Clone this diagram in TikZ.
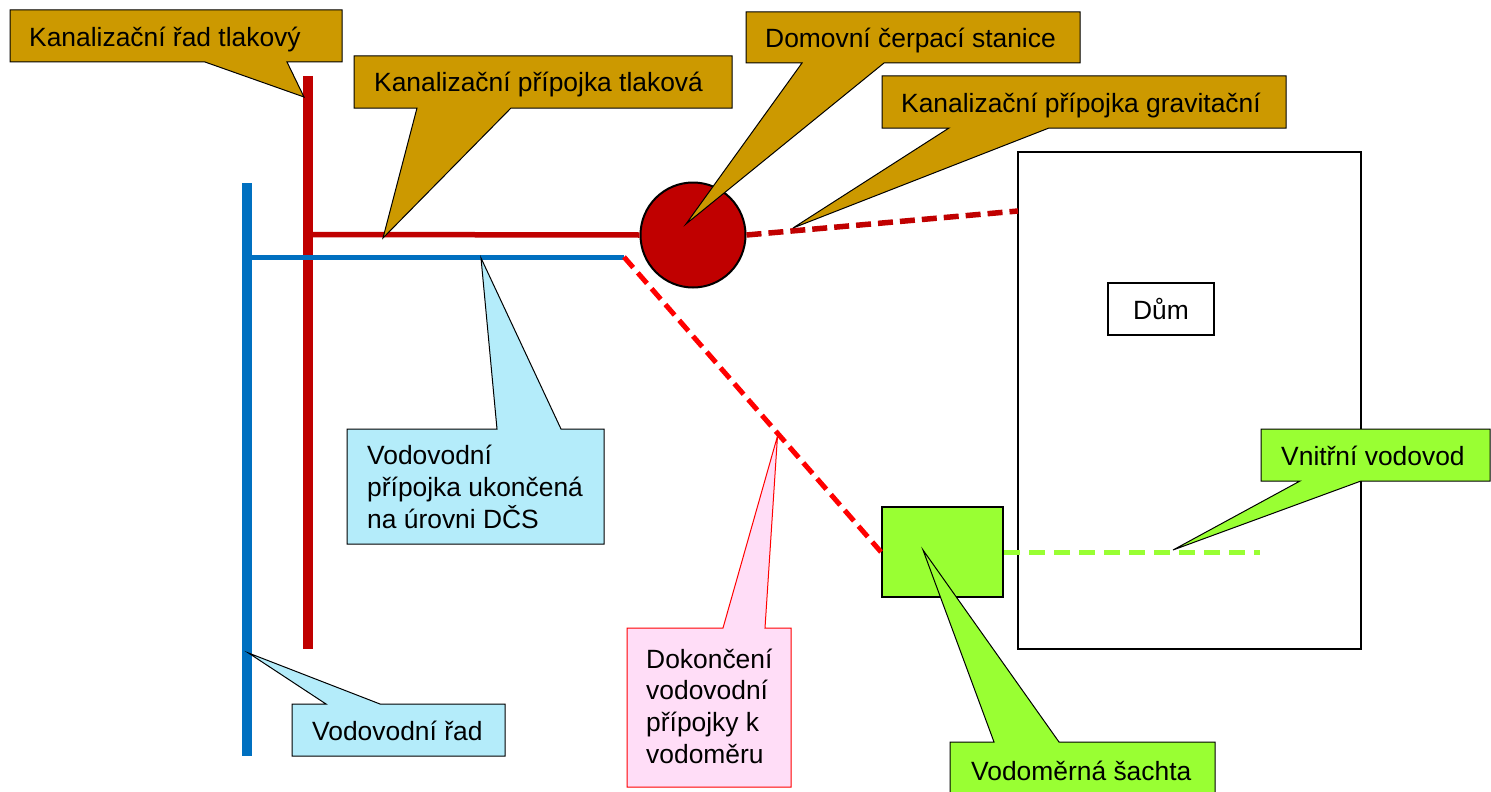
\documentclass[tikz,border=0pt]{standalone}
\usepackage{fontspec}
\setmainfont{Liberation Sans}
\definecolor{gold}{RGB}{204,153,0}
\definecolor{lblue}{RGB}{180,236,250}
\definecolor{lpink}{RGB}{255,221,247}
\definecolor{lgreen}{RGB}{153,255,51}
\definecolor{dred}{RGB}{192,0,0}
\definecolor{bred}{RGB}{255,0,0}
\definecolor{pblue}{RGB}{0,112,192}
\tikzset{
  lbl/.style={inner sep=0pt, anchor=base west, align=left, font=\fontsize{26.4pt}{31.6pt}\selectfont},
  callgold/.style={fill=gold, draw=black, line width=1pt, line join=miter},
  callblue/.style={fill=lblue, draw=black, line width=1pt},
  callpink/.style={fill=lpink, draw=bred, line width=1pt},
  callgreen/.style={fill=lgreen, draw=black, line width=1pt},
  redpipe/.style={draw=dred, line width=10pt},
  bluepipe/.style={draw=pblue, line width=10.5pt},
  redthin/.style={draw=dred, line width=5.5pt},
  bluethin/.style={draw=pblue, line width=5pt},
  graviline/.style={draw=dred, line width=5.5pt, dash pattern=on 15pt off 7pt},
  finishline/.style={draw=bred, line width=5pt, dash pattern=on 14pt off 7pt},
  innerline/.style={draw=lgreen, line width=5pt, dash pattern=on 16pt off 9pt},
}
\begin{document}
\begin{tikzpicture}[x=1pt,y=-1pt]
\useasboundingbox (0,0) rectangle (1491,792);
\fill[white] (0,0) rectangle (1491,792);
\begin{scope}
\clip (0,0) rectangle (1491,792);
% pipes
\coordinate (rtop) at (308,76);
\coordinate (rbot) at (308,649);
\coordinate (btop) at (247,183);
\coordinate (bbot) at (247,756);
\coordinate (rh) at (313,234.5);
\coordinate (bh) at (252,257);
\coordinate (bend) at (624,257);
\coordinate (hw) at (1018,211);
\coordinate (gend) at (1260,552);
\node (house) [draw=black, line width=2pt, minimum width=343pt, minimum height=497pt, inner sep=0pt] at (1189.5,400.5) {};
\node (dum) [draw=black, fill=white, line width=1.3pt, minimum width=106pt, minimum height=52pt, inner sep=0pt, font=\fontsize{26.4pt}{31pt}\selectfont] at (1161,309) {Dům};
\draw[redpipe] (rtop) -- (rbot);
\draw[bluepipe] (btop) -- (bbot);
\node (dcs) [circle, draw=black, line width=2pt, fill=dred, minimum size=105pt, inner sep=0pt] at (693,235) {};
\draw[redthin] (rh) -- (dcs.west);
\draw[bluethin] (bh) -- (bend);
\node (shaft) [draw=black, line width=2pt, fill=lgreen, minimum width=121pt, minimum height=90pt, inner sep=0pt] at (942.5,552) {};
\draw[graviline] (dcs.east) -- (hw);
\draw[finishline] (bend) -- (shaft.west);
\draw[innerline] (shaft.east) -- (gend);
% callout tips
\coordinate (tip1) at (304,97);
\coordinate (tip2) at (383,238);
\coordinate (tip3) at (686,224);
\coordinate (tip4) at (793,228);
\coordinate (tip5) at (481,258);
\coordinate (tip6) at (248.5,653);
\coordinate (tip7) at (777.5,436);
\coordinate (tip8) at (1173,550);
\coordinate (tip9) at (923,550);
% callouts
\draw[callgold] (10,10) -- (342,10) -- (342,62) -- (287,62) -- (tip1) -- (205,62) -- (10,62) -- cycle;
\node (t1) [lbl] at (29,47) {Kanalizační řad tlakový};
\draw[callgold] (354,56) -- (732,56) -- (732,108) -- (511,108) -- (tip2) -- (417,108) -- (354,108) -- cycle;
\node (t2) [lbl] at (374,92) {Kanalizační přípojka tlaková};
\draw[callgold] (746,12) -- (1080,12) -- (1080,63) -- (884,63) -- (tip3) -- (802,63) -- (746,63) -- cycle;
\node (t3) [lbl] at (765,48) {Domovní čerpací stanice};
\draw[callgold] (882,76) -- (1286,76) -- (1286,128) -- (1049,128) -- (tip4) -- (949,128) -- (882,128) -- cycle;
\node (t4) [lbl] at (901,112) {Kanalizační přípojka gravitační};
\draw[callblue] (347,429) -- (497,429) -- (tip5) -- (561,429) -- (604,429) -- (604,544) -- (347,544) -- cycle;
\node (t5) [lbl] at (367,528) {Vodovodní\\přípojka ukončená\\na úrovni DČS};
\draw[callblue] (292,704) -- (326,704) -- (tip6) -- (380,704) -- (505,704) -- (505,756) -- (292,756) -- cycle;
\node (t6) [lbl] at (312,740) {Vodovodní řad};
\draw[callpink] (627,628) -- (723,628) -- (tip7) -- (765,628) -- (791,628) -- (791,787) -- (627,787) -- cycle;
\node (t7) [lbl] at (646,763) {Dokončení\\vodovodní\\přípojky k\\vodoměru};
\draw[callgreen] (1261,429) -- (1490,429) -- (1490,481) -- (1361,481) -- (tip8) -- (1300,481) -- (1261,481) -- cycle;
\node (t8) [lbl] at (1281,465) {Vnitřní vodovod};
\draw[callgreen] (950,742) -- (994,742) -- (tip9) -- (1059,742) -- (1215,742) -- (1215,810) -- (950,810) -- cycle;
\node (t9) [lbl] at (971,780) {Vodoměrná šachta};
\end{scope}
\end{tikzpicture}
\end{document}
